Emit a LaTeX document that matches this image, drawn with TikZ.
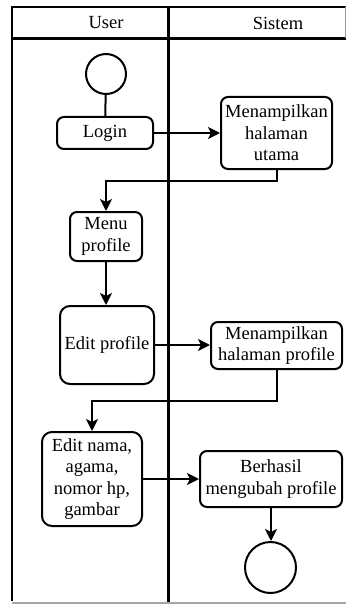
\documentclass[tikz,border=0pt]{standalone}
\usepackage{fontspec}
\setmainfont{Liberation Serif}
\newfontfamily\lanefont{Liberation Serif}
\usetikzlibrary{arrows.meta}
\begin{document}
\begin{tikzpicture}[x=1pt,y=-1pt,
  act/.style={draw, line width=2pt, rounded corners=7pt, align=center, inner sep=0pt,
    font=\lanefont\fontsize{18.5}{21.5}\selectfont},
  head/.style={font=\lanefont\fontsize{18.5}{21.5}\selectfont, inner sep=0pt},
  lane/.style={line width=2.2pt},
  flow/.style={line width=2pt, -{Stealth[length=12pt,width=12pt,inset=3pt]}},
  link/.style={line width=2pt},
  state/.style={draw, circle, line width=2pt, inner sep=0pt}
]
\useasboundingbox (0,0) rectangle (346,604);

% swimlane frame
\draw[lane] (345.5,7) -- (12,7) -- (12,601);
\draw[lane] (12,38.5) -- (346,38.5);
\draw[lane] (168.5,7) -- (168.5,602);
\draw[line width=1pt, black!40] (345.5,7) -- (345.5,38.5);
\draw[line width=1.4pt, black!35] (12,603) -- (346,603);
\node[head] (hUser) at (106,23) {User};
\node[head] (hSistem) at (278,23) {Sistem};

% activities
\node[state, minimum size=40pt] (start) at (106,74) {};
\node[act, minimum width=96pt, minimum height=32pt] (login) at (105,133) {Login};
\node[act, minimum width=111pt, minimum height=72pt] (utama) at (276.5,133) {Menampilkan\\halaman\\utama};
\node[act, minimum width=72pt, minimum height=49pt] (menu) at (106,236.5) {Menu\\profile};
\node[act, rounded corners=10pt, minimum width=94pt, minimum height=78pt] (editp) at (107,345) {Edit profile};
\node[act, minimum width=131pt, minimum height=47pt] (halp) at (276.5,345.5) {Menampilkan\\halaman profile};
\node[act, rounded corners=10pt, minimum width=100pt, minimum height=94pt] (editn) at (92,479) {Edit nama,\\agama,\\nomor hp,\\gambar};
\node[act, minimum width=142pt, minimum height=56pt] (berhasil) at (271,479) {Berhasil\\mengubah profile};
\node[state, minimum size=51pt] (end) at (270.5,567.5) {};

% control flow
\draw[link] (start) -- (login);
\draw[flow] (login) -- (utama);
\draw[flow] (utama.south) -- ++(0,11) -| (menu.north);
\draw[flow] (menu.south) -- (menu.south |- editp.north);
\draw[flow] (editp.east) -- (editp.east -| halp.west);
\draw[flow] (halp.south) -- ++(0,31) -| (editn.north);
\draw[flow] (editn) -- (berhasil);
\draw[flow] (berhasil.south) -- (berhasil.south |- end.north);
\end{tikzpicture}
\end{document}
